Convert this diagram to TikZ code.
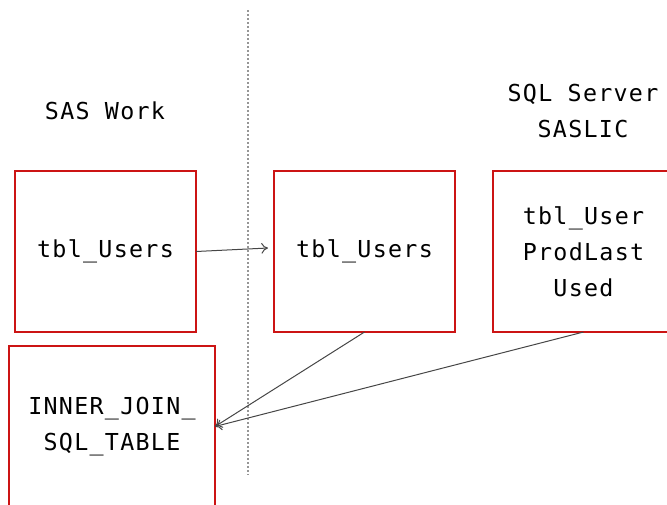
\documentclass[tikz,border=0pt]{standalone}
\usepackage{fontspec}
\newfontfamily\diagmono[LetterSpace=5.5]{DejaVu Sans Mono}
\usetikzlibrary{arrows.meta}
\definecolor{boxred}{RGB}{204,20,20}
\definecolor{conngray}{RGB}{70,70,70}
\definecolor{divgray}{RGB}{150,150,150}
\tikzset{
  tablebox/.style={draw=boxred, line width=1.5pt, minimum width=135.75pt, minimum height=120.75pt,
    align=center, inner sep=0pt, outer sep=0pt, font=\diagmono\fontsize{17.5}{27}\selectfont},
  label/.style={align=center, inner sep=0pt, font=\diagmono\fontsize{17.5}{27}\selectfont},
  conn/.style={draw=conngray, line width=0.75pt, -{To[length=5pt,width=8pt]}},
  divider/.style={draw=divgray, line width=0.9pt, dash pattern=on 1.6pt off 1.4pt}
}
\begin{document}
\begin{tikzpicture}[x=0.75pt,y=-0.75pt]
\useasboundingbox (0,0) rectangle (667,504);
\clip (0,0) rectangle (667,504);
\coordinate (dtop) at (248,10);
\coordinate (dbot) at (248,475);
\draw[divider] (dtop) -- (dbot);
\node[label] (saswork) at (105,111) {SAS Work};
\node[label] (sqlsrv) at (583,111) {SQL Server\\SASLIC};
\node[tablebox] (b1) at (105.5,251.5) {tbl\_Users};
\node[tablebox] (b2) at (364.5,251.5) {tbl\_Users};
\node[tablebox] (b3) at (583.5,251.5) {tbl\_User\\ProdLast\\Used};
\node[tablebox, minimum width=154.5pt] (b4) at (112,426.5) {INNER\_JOIN\_\\SQL\_TABLE};
\coordinate (a1end) at (268,248);
\draw[conn] (b1.east) -- (a1end);
\draw[conn] (b2.south) -- (b4.east);
\draw[conn] (b3.south) -- (b4.east);
\end{tikzpicture}
\end{document}
